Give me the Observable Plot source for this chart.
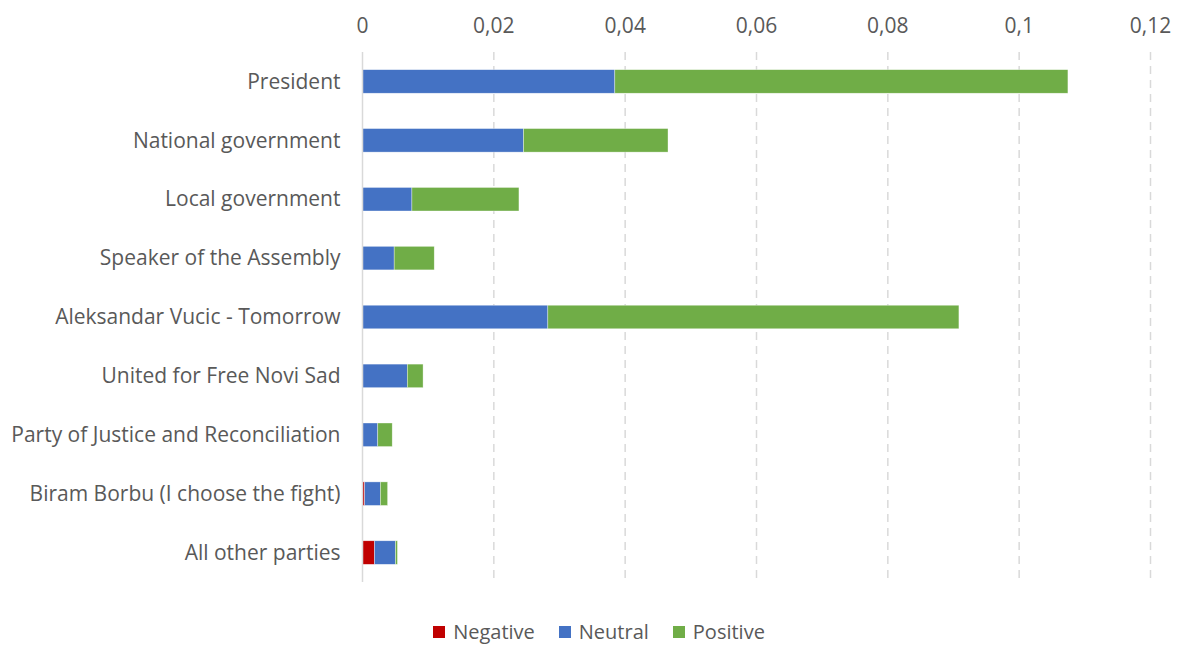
<!DOCTYPE html>
<html>
<head>
<meta charset="utf-8">
<script src="https://cdn.jsdelivr.net/npm/d3@7"></script>
<script src="https://cdn.jsdelivr.net/npm/@observablehq/plot@0.6"></script>
<style>
  html, body { margin: 0; padding: 0; background: #fff; }
  #chart { width: 1178px; }
  .legend { display: flex; justify-content: center; font-family: "Open Sans", Lato, sans-serif; font-size: 20px; color: #595959; margin-top: 18px; padding-left: 20px; }
  .legend .item { display: flex; align-items: center; margin: 0 12px; }
  .legend .sw { width: 12px; height: 12px; margin-right: 8px; display: inline-block; }
</style>
</head>
<body>
<div id="chart"></div>
<script>
const categories = [
  "President",
  "National government",
  "Local government",
  "Speaker of the Assembly",
  "Aleksandar Vucic - Tomorrow",
  "United for Free Novi Sad",
  "Party of Justice and Reconciliation",
  "Biram Borbu (I choose the fight)",
  "All other parties"
];
const negative = [0, 0, 0, 0, 0, 0, 0, 0.0004, 0.0019];
const neutral  = [0.0385, 0.0246, 0.0076, 0.0049, 0.0283, 0.0069, 0.0024, 0.0024, 0.0032];
const positive = [0.0690, 0.0220, 0.0163, 0.0061, 0.0626, 0.0024, 0.0022, 0.0011, 0.0003];
const seriesNames = ["Negative", "Neutral", "Positive"];
const seriesColors = ["#C00000", "#4472C4", "#70AD47"];
const xTicks = [0, 0.02, 0.04, 0.06, 0.08, 0.1, 0.12];

const seriesValues = [negative, neutral, positive];
const rows = [];
categories.forEach((c, i) => {
  seriesNames.forEach((s, j) => {
    rows.push({category: c, series: s, value: seriesValues[j][i]});
  });
});

const font = "'Open Sans', Lato, sans-serif";
const chart = Plot.plot({
  width: 1178,
  height: 600,
  marginLeft: 362,
  marginRight: 28,
  marginTop: 52,
  marginBottom: 18,
  style: {fontFamily: font, fontSize: "21px", color: "#595959", background: "#fff"},
  x: {domain: [0, 0.12], axis: null},
  y: {domain: categories, paddingInner: 0.6, paddingOuter: 0.3, round: false, axis: null},
  color: {domain: seriesNames, range: seriesColors},
  marks: [
    Plot.ruleX(xTicks.filter(d => d > 0), {stroke: "#d9d9d9", strokeWidth: 1.5, strokeDasharray: "8,6"}),
    Plot.axisX(xTicks, {anchor: "top", tickSize: 0, tickPadding: 0, dy: -20, fontSize: 21, fill: "#595959", tickFormat: d => String(d).replace(".", ","), label: null}),
    Plot.axisY({anchor: "left", tickSize: 0, tickPadding: 22, fontSize: 21, fill: "#595959", label: null}),
    Plot.barX(rows, Plot.stackX({order: seriesNames, x: "value", y: "category", fill: "series", stroke: "#ffffff", strokeWidth: 0.6, strokeOpacity: 0.6})),
    Plot.ruleX([0], {stroke: "#d9d9d9", strokeWidth: 1.5})
  ]
});
document.getElementById("chart").appendChild(chart);

const legend = document.createElement("div");
legend.className = "legend";
seriesNames.forEach((s, i) => {
  const item = document.createElement("span");
  item.className = "item";
  const sw = document.createElement("span");
  sw.className = "sw";
  sw.style.background = seriesColors[i];
  item.appendChild(sw);
  item.appendChild(document.createTextNode(s));
  legend.appendChild(item);
});
document.getElementById("chart").appendChild(legend);
</script>
</body>
</html>
